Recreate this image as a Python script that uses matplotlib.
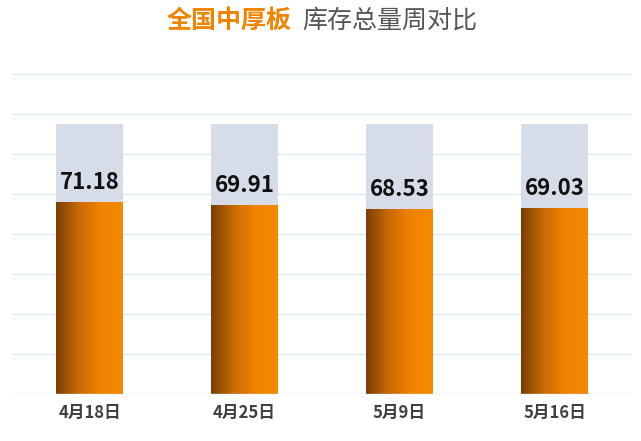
import numpy as np
import matplotlib
matplotlib.use("Agg")
from matplotlib import pyplot as plt
from matplotlib.patches import Rectangle

plt.rcParams['font.family'] = ['Noto Sans CJK SC', 'DejaVu Sans']

categories = ["4月18日", "4月25日", "5月9日", "5月16日"]
values = [71.18, 69.91, 68.53, 69.03]
background = [100, 100, 100, 100]

fig = plt.figure(figsize=(6.41, 4.41), dpi=100)
ax = fig.add_axes([12/641, 47/441, 620/641, 334/441])
ax.set_xlim(-0.5, 3.5)
ax.set_ylim(0, 100 * 334 / 270)
for y in np.arange(1, 9) * 100 * 40 / 270:
    ax.axhline(y, color="#d6e4ef", lw=0.8, zorder=0)
ax.axhline(0, color="#c8d8e6", lw=1, zorder=3)

w = 67 / 155
grad = np.linspace(0, 1, 256).reshape(1, -1)
cmap = matplotlib.colors.LinearSegmentedColormap.from_list("g", ["#7a3e05", "#c86a04", "#f08300", "#f58a00"])
for i, (v, b) in enumerate(zip(values, background)):
    ax.bar(i, b, width=w, color="#d6dde8", zorder=1)
    im = ax.imshow(grad, cmap=cmap, extent=(i - w/2, i + w/2, 0, v), aspect="auto", zorder=2)
    im.set_clip_path(Rectangle((i - w/2, 0), w, v, transform=ax.transData))
    ax.text(i, v + 3, "%.2f" % v, ha="center", va="bottom", fontsize=16, fontweight="bold", color="#111111")
ax.set_xlim(-0.5, 3.5)
ax.set_ylim(0, 100 * 334 / 270)
ax.set_xticks(range(len(categories)))
ax.set_xticklabels(categories, fontsize=12, fontweight="bold", color="#404040")
ax.tick_params(length=0, pad=7)
ax.set_yticks([])
for s in ax.spines.values():
    s.set_visible(False)

fig.text(0.455, 0.953, "全国中厚板", ha="right", va="center", fontsize=18, fontweight="bold", color="#f08300")
fig.text(0.472, 0.953, "库存总量周对比", ha="left", va="center", fontsize=18, color="#555555")

fig.savefig("out.png", dpi=100)
